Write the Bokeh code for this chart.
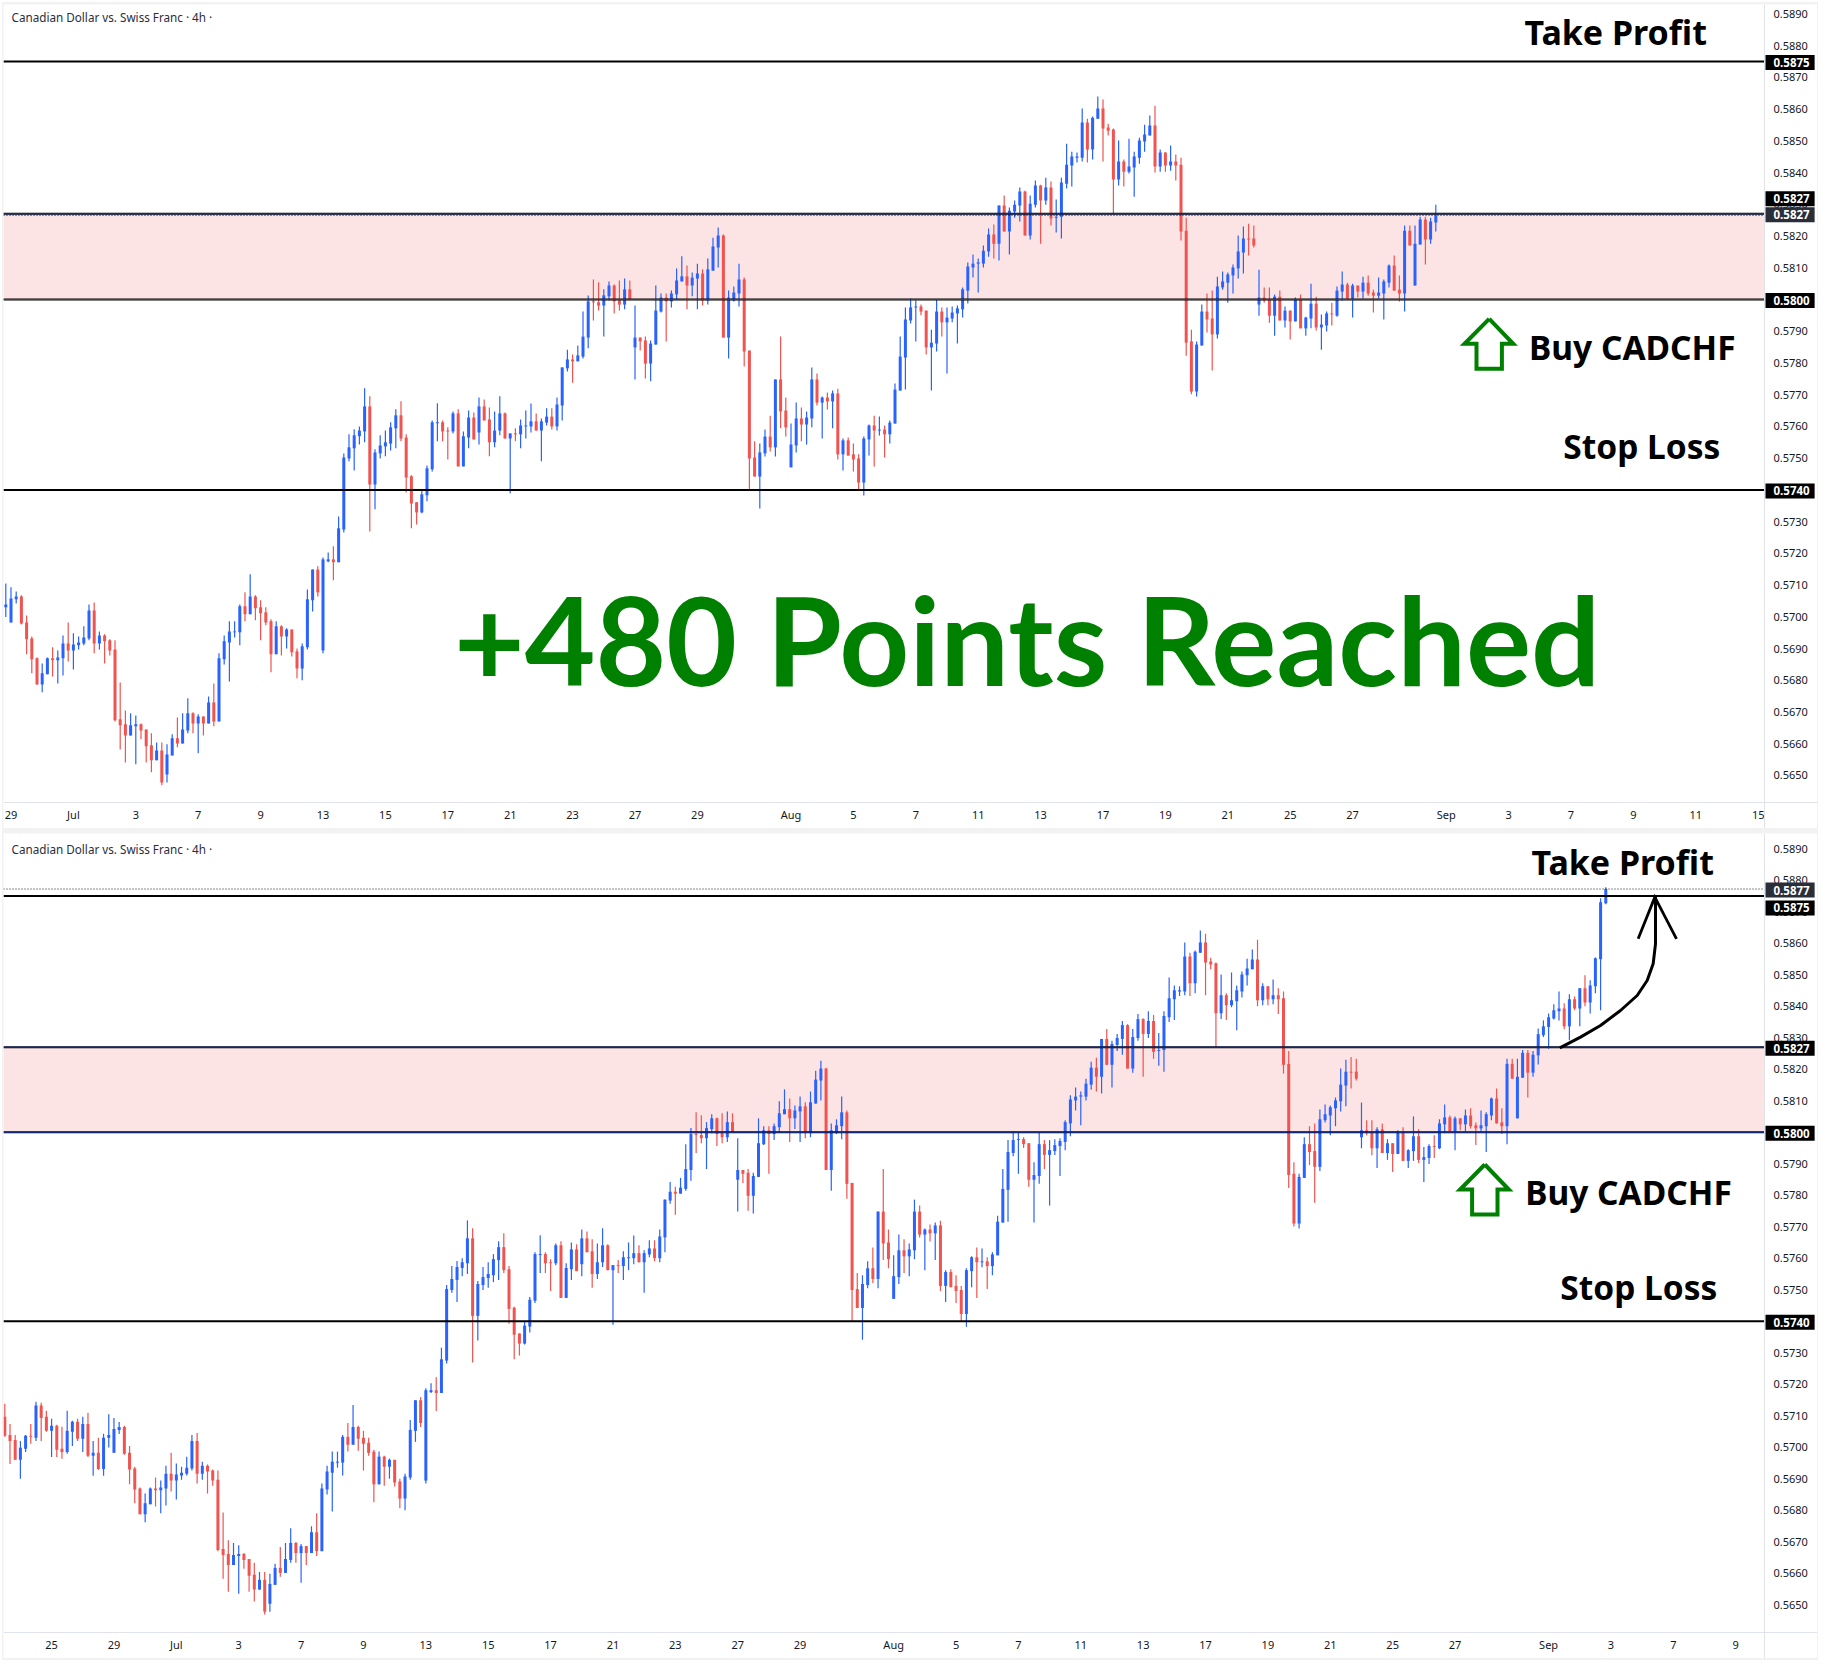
from bokeh.plotting import figure
from bokeh.models import (Range1d, FixedTicker, Label, ColumnDataSource, NumeralTickFormatter)
from bokeh.layouts import column
from bokeh.embed import file_html
from bokeh.resources import INLINE

# Values are pips above 0.5000 (703.9 means 0.57039). The first 20 bars appear only in the lower panel.
high = [
713.8,707.4,703.9,702.0,703.9,707.4,714.4,714.1,711.6,709.0,
707.1,706.5,711.6,708.4,709.0,709.7,710.9,702.0,703.0,704.3,
710.5,709.3,708.0,706.8,700.4,693.8,687.2,685.3,687.2,690.4,
689.4,694.1,698.2,694.8,693.8,697.0,703.9,704.5,695.4,694.5,
692.9,692.6,679.3,670.5,669.6,668.9,666.4,664.5,663.3,660.4,
660.4,659.8,663.0,668.3,669.6,674.3,669.9,669.3,668.6,674.9,
679.0,688.5,694.1,698.6,698.6,703.9,707.7,713.4,706.8,705.2,
703.0,699.2,698.6,697.3,696.4,696.0,690.0,691.6,708.6,714.9,
715.9,718.7,720.3,722.2,731.6,751.5,757.5,759.1,760.0,772.0,
769.5,752.8,757.2,758.7,761.3,765.4,767.9,757.5,744.6,736.1,
739.8,747.7,761.9,767.3,761.9,759.7,764.7,765.4,758.4,765.0,
764.4,769.1,768.5,766.0,764.7,769.5,764.4,757.8,759.4,762.2,
765.0,767.2,764.1,762.5,765.7,765.7,769.1,778.6,784.2,782.7,
785.5,796.2,801.3,806.3,805.4,803.2,805.7,804.7,806.0,806.6,
806.0,798.1,788.0,788.3,787.1,804.4,801.9,801.9,802.8,809.8,
813.6,810.7,808.5,811.3,809.5,812.9,819.5,822.7,820.5,802.8,
804.1,811.3,806.9,783.9,755.3,754.6,759.0,763.4,774.8,788.3,
769.1,760.9,767.5,766.0,764.7,778.6,776.7,769.4,770.7,771.3,
771.9,756.2,756.5,754.6,751.2,756.8,760.6,763.4,763.1,760.3,
761.9,773.5,788.3,797.5,800.3,799.7,798.4,796.5,790.5,800.0,
797.5,797.5,797.8,798.1,803.8,811.7,814.2,812.9,817.0,822.4,
823.6,829.6,832.8,829.0,831.2,835.3,834.3,832.8,837.5,836.2,
838.4,837.2,831.5,838.4,849.1,846.6,846.3,860.2,857.0,857.7,
864.0,863.0,855.4,853.9,850.1,844.1,850.7,846.6,851.0,855.1,
858.0,861.1,847.3,846.3,848.5,845.7,844.7,825.8,790.5,786.8,
798.4,801.9,802.8,807.2,808.8,808.5,811.0,820.2,823.0,823.9,
823.3,809.4,803.8,803.8,801.6,802.8,797.8,796.5,800.6,801.6,
794.6,805.0,800.9,795.3,796.2,799.0,804.1,808.8,805.3,805.0,
804.4,807.2,807.6,803.1,806.9,806.3,811.0,813.9,807.6,823.3,
823.3,823.3,826.1,826.1,825.8,832.9,
835.5,837.7,840.6,844.7,840.9,843.8,843.1,845.7,849.8,848.2,855.5,874.3,877.8]

body_top = [
709.7,703.9,702.3,699.8,703.6,703.6,713.2,713.2,709.7,706.8,
706.8,699.5,705.2,708.1,708.1,707.4,707.4,698.2,698.2,703.0,
703.9,705.8,706.4,706.4,698.2,693.2,686.9,682.2,686.9,686.9,
687.2,691.6,691.6,691.3,691.9,693.5,702.0,702.0,694.1,694.1,
692.6,689.7,667.7,666.1,665.8,666.1,666.1,664.5,659.5,657.9,
657.9,656.6,661.7,661.7,664.5,669.6,669.6,668.6,668.6,673.0,
673.0,686.9,692.3,695.4,695.4,703.3,703.3,706.4,706.4,703.0,
701.4,698.6,697.0,697.0,696.0,696.0,689.1,690.7,705.5,714.9,
714.9,718.1,718.1,718.1,727.9,750.2,753.4,757.2,758.7,766.3,
766.3,751.8,754.0,755.0,759.7,763.5,763.5,756.5,744.3,736.1,
738.6,746.8,761.3,761.3,761.3,758.7,764.1,764.1,756.9,762.8,
762.8,766.3,766.3,762.2,758.7,764.1,764.1,757.8,757.8,760.3,
760.3,761.6,761.6,761.6,763.1,763.1,766.9,778.6,781.1,781.1,
782.4,788.3,799.4,799.4,799.1,801.3,804.4,804.4,799.7,803.2,
803.2,788.0,788.0,787.1,786.1,796.5,800.6,800.6,801.9,806.0,
807.3,807.3,806.9,808.2,808.2,809.5,816.7,820.2,820.2,800.6,
802.2,806.3,806.3,783.9,750.2,751.8,756.8,756.8,774.8,774.8,
765.0,754.3,762.5,762.5,762.8,774.8,774.8,769.1,769.1,770.4,
770.4,755.6,755.6,751.2,749.9,756.2,760.3,760.3,759.0,759.0,
761.2,771.6,782.0,793.7,797.5,797.8,797.8,796.5,786.4,796.2,
796.2,794.3,795.9,797.2,803.2,810.4,811.3,811.7,815.4,820.5,
820.5,829.6,829.6,828.0,829.9,834.0,834.0,830.2,835.9,835.9,
835.3,835.3,826.1,836.9,842.5,845.1,845.1,855.8,855.8,857.3,
860.2,860.2,854.2,853.6,843.5,843.5,841.9,845.1,850.1,852.0,
854.8,854.8,846.3,846.3,843.5,843.5,842.5,821.7,786.8,785.8,
796.2,796.2,794.0,804.1,805.7,807.9,810.1,815.1,819.2,819.2,
819.2,800.6,800.6,800.0,800.9,800.9,796.5,796.5,800.0,800.0,
794.3,798.7,798.7,792.1,795.6,795.6,802.8,804.7,804.7,804.4,
804.4,805.3,805.3,802.2,802.2,805.7,810.7,810.7,803.1,821.7,
821.7,817.6,825.2,825.2,824.6,831.1,
833.6,836.5,838.7,839.3,839.3,842.2,842.2,845.7,845.7,846.6,855.2,873.0,877.2]

body_bottom = [
703.6,702.0,696.0,696.0,699.5,703.3,703.0,709.3,705.2,705.2,
699.2,698.5,698.5,704.9,702.7,702.7,697.3,697.3,693.1,693.1,
703.0,698.2,705.5,697.9,692.9,686.6,678.7,678.7,681.9,686.3,
686.3,686.9,689.4,689.4,691.0,691.6,693.2,691.6,691.6,692.3,
689.4,667.4,665.8,662.6,662.6,665.5,664.2,659.2,654.8,654.8,
647.8,650.3,656.3,660.1,660.1,664.2,666.4,666.4,666.4,666.4,
667.0,667.0,686.6,691.9,695.1,695.1,700.8,700.8,702.7,701.1,
698.2,688.2,688.2,693.8,693.8,688.8,683.7,683.7,690.4,705.2,
707.7,689.4,717.5,717.2,717.2,727.5,749.9,753.1,756.9,758.4,
741.7,741.7,751.5,753.7,754.6,759.4,756.2,743.9,735.7,732.9,
732.9,738.3,746.5,761.0,758.4,758.4,758.4,747.4,747.4,756.5,
755.9,758.1,761.9,755.0,755.0,758.7,756.2,756.2,757.5,757.5,
760.0,760.0,758.7,758.7,761.2,760.0,760.0,766.6,778.3,780.5,
780.5,782.0,788.0,799.1,798.1,798.1,801.0,799.4,798.4,798.4,
800.0,784.9,786.8,779.8,779.8,785.8,796.2,799.4,799.4,801.6,
805.7,804.4,804.4,806.6,799.7,799.7,809.1,816.4,788.0,788.0,
799.7,801.9,783.6,749.9,744.2,744.2,751.5,753.4,753.4,764.7,
759.7,747.1,754.0,760.6,760.6,762.5,767.5,767.5,767.9,767.9,
751.2,751.2,750.8,749.6,742.3,742.3,755.9,758.7,758.7,757.5,
757.5,760.9,771.3,781.7,793.4,797.5,796.2,784.9,784.9,786.1,
792.8,792.8,794.0,795.6,796.9,802.8,810.1,811.3,811.3,815.1,
817.6,817.6,821.4,821.4,827.7,829.6,820.2,820.2,829.9,831.2,
831.2,825.5,825.8,826.1,836.5,842.2,844.7,844.7,847.3,847.3,
857.0,853.9,853.2,837.8,837.8,840.3,840.3,841.6,844.7,849.8,
851.7,841.9,841.9,842.2,842.2,842.2,821.4,786.4,771.0,771.0,
785.5,793.7,789.0,789.0,803.8,805.3,807.6,809.8,814.8,818.9,
817.0,798.4,799.7,794.9,794.9,793.4,793.4,793.1,793.1,790.9,
790.9,794.0,791.2,791.2,791.8,795.3,794.9,802.5,800.3,800.3,
802.5,802.5,801.9,801.2,801.2,801.9,805.3,802.8,801.9,801.9,
817.0,804.4,817.3,818.9,818.9,824.4,
830.8,833.4,836.1,838.4,833.6,833.6,839.3,839.3,841.2,841.2,846.3,854.9,872.7]

low = [
703.3,694.7,696.0,690.0,698.5,701.1,702.0,702.0,704.9,696.9,
696.9,696.3,697.9,700.4,702.0,698.5,696.9,690.9,692.8,690.9,
699.9,698.2,704.2,697.6,688.2,682.2,678.7,676.2,681.9,681.2,
679.0,681.5,685.9,683.4,689.7,691.0,692.6,688.5,689.7,685.3,
687.8,667.0,658.2,654.1,662.6,653.5,661.4,654.1,651.0,654.8,
646.9,647.8,656.3,658.9,660.1,663.3,663.3,657.0,662.6,666.4,
665.5,667.0,685.0,679.6,693.5,691.0,698.6,700.8,698.9,692.6,
697.3,682.5,688.2,687.8,690.0,687.5,680.6,680.0,689.7,701.7,
706.4,688.5,717.2,711.5,717.2,726.6,749.0,746.1,754.3,755.0,
726.9,733.9,749.9,750.6,752.4,753.1,755.3,739.2,727.9,729.1,
732.6,736.4,745.8,755.3,755.3,749.6,757.8,747.4,747.4,753.1,
755.9,754.3,761.9,750.6,753.4,757.2,756.2,738.9,755.3,753.1,
756.2,758.1,758.7,749.0,760.3,759.0,758.7,761.9,777.3,773.8,
780.5,781.4,784.6,793.4,796.5,788.3,799.7,795.6,796.5,796.9,
800.0,774.8,783.9,775.1,774.2,785.8,795.9,786.8,797.5,800.0,
805.7,796.9,801.0,796.9,798.1,798.4,809.1,810.1,788.0,781.4,
799.4,797.8,778.9,739.8,744.2,734.1,750.5,752.1,750.5,759.4,
756.8,747.1,751.8,755.3,754.3,759.7,766.6,756.2,765.3,759.4,
749.6,746.1,750.8,745.8,740.1,738.2,750.8,747.4,757.1,750.2,
754.6,760.9,771.3,771.6,792.4,786.8,795.0,782.7,771.3,783.6,
788.3,776.7,792.8,786.1,794.3,798.7,806.9,802.2,810.1,813.5,
812.9,812.3,821.4,814.2,825.8,824.6,820.2,818.9,829.0,817.6,
829.9,823.3,821.1,819.2,835.0,835.6,843.2,843.5,843.2,844.1,
857.0,843.5,851.7,826.8,835.9,835.6,839.7,832.4,842.8,846.6,
851.7,840.0,840.3,840.3,840.6,837.5,818.6,782.3,770.1,769.4,
785.5,789.6,777.6,787.7,803.1,799.0,801.9,806.6,808.2,813.9,
816.4,794.9,799.0,792.7,788.6,793.4,791.2,787.4,793.1,790.9,
788.6,790.9,790.2,784.2,789.9,791.8,794.6,799.7,800.3,794.3,
800.6,800.3,801.2,795.9,800.3,793.7,803.8,802.8,799.4,796.2,
817.0,804.4,817.3,811.0,817.6,821.5,
830.2,826.5,835.8,835.5,832.7,829.2,838.7,833.6,840.0,837.7,844.1,838.7,872.4]

direction = ("RRRBBRBRRB" "RRBBRBRBRB" "BBBRRRRBBR" "BBRBBBBRBR" "RRRRBBRRRB" "RBBRBBRBRB" "RBBBBBRBRR"
             "RRBRBRRBBB" "RBBRBBBBBB" "RBBBBBRRRR" "BBBBRRBRBB" "RBRRBBRBRB" "BBRBBRBBBR" "BBBRRBBRRB"
             "RBRRBBBRBB" "BRBBRBBBRB" "BBRRRBBRBR" "RBBRBBRBRB" "RBRRRBBRBR" "BBBBBBRRBB" "RBBBBBBBBB"
             "RBRBBBRBBR" "BRBBBBBBRB" "BRRRBRBBBB" "BRBRBRRRRB" "BRRBBBBBBR" "RBRRBRBRBR" "BBRBBRBBRB"
             "RBRRBBBRRB" "RBBRBB" "BBBBRBRBRBBBB")

# The upper panel ends earlier, on a bar that was still forming.
upper_first_bar, upper_bar_count = 20, 276
upper_last_bar = dict(high=829.9, top=826.5, bottom=824.3, low=821.4)

take_profit, zone_top, zone_bottom, stop_loss = 875.0, 827.0, 800.0, 740.0
upper_last_price, lower_last_price = 826.5, 877.2

price_ticks = [650 + 10 * k for k in range(25)]
upper_tick_bars = [1,13,25,37,49,61,73,85,97,109,121,133,151,163,175,187,199,211,223,235,247,259,277,289,301,313,325,337]
upper_tick_labels = ["29","Jul","3","7","9","13","15","17","21","23","27","29","Aug","5","7","11","13","17","19","21","25","27","Sep","3","7","9","11","15"]
lower_tick_bars = [9,21,33,45,57,69,81,93,105,117,129,141,153,171,183,195,207,219,231,243,255,267,279,297,309,321,333]
lower_tick_labels = ["25","29","Jul","3","7","9","13","15","17","21","23","27","29","Aug","5","7","11","13","17","19","21","25","27","Sep","3","7","9"]

title_text = "Canadian Dollar vs. Swiss Franc \u00b7 4h \u00b7"
UP, DOWN = "#2962FF", "#F05350"
GREEN, GREY = "#008000", "#F2F2F2"
AXIS_LINE = "#E0E3EB"
HEADING = "Noto Sans"
CONV = {}


def price(p):
    return (5000 + p) / 10000


def make_panel(bars, tick_bars, tick_labels, geom, height, margin):
    """geom: page-pixel position of the whole panel, of its two axes and of both scales' reference points."""
    def to_x(px):
        return (px - geom["bar0_px"]) / geom["bar_step"]

    def to_y(py):
        return price(zone_bottom + (geom["zone_bottom_py"] - py) / geom["px_per_pip"])

    # The frame fills the panel; both axes sit inside it so the price tags can lie over the axis strip.
    p = figure(width=1814, height=height, output_backend="svg", toolbar_location=None, tools="",
               x_range=Range1d(to_x(geom["x0"]), to_x(geom["x1"])),
               y_range=Range1d(to_y(geom["y1"]), to_y(geom["y0"])),
               y_axis_location="right", margin=margin,
               min_border=0, background_fill_color="white", border_fill_color="white")
    p.outline_line_color = None
    p.grid.visible = False
    p.xaxis[0].fixed_location = to_y(geom["axis_y"])
    p.yaxis[0].fixed_location = to_x(geom["axis_x"])
    for ax in (p.xaxis[0], p.yaxis[0]):
        ax.major_tick_line_color = None
        ax.minor_tick_line_color = None
        ax.major_tick_out = 0
        ax.major_tick_in = 0
        ax.minor_tick_out = 0
        ax.minor_tick_in = 0
        ax.axis_line_color = AXIS_LINE
        ax.major_label_text_font = "Noto Sans"
        ax.major_label_text_font_size = "11px"
        ax.major_label_text_color = "#131722"
    p.yaxis[0].ticker = FixedTicker(ticks=[price(t) for t in price_ticks])
    p.yaxis[0].formatter = NumeralTickFormatter(format="0.0000")
    p.yaxis[0].major_label_standoff = 9
    p.xaxis[0].ticker = FixedTicker(ticks=tick_bars)
    p.xaxis[0].major_label_overrides = dict(zip(tick_bars, tick_labels))
    p.xaxis[0].major_label_standoff = 4

    p.quad(left=to_x(geom["x0"]), right=to_x(geom["axis_x"]), top=price(zone_top), bottom=price(zone_bottom),
           fill_color="#FCE4E4", line_color=None, level="underlay")

    colors = [UP if d == "B" else DOWN for d in bars["dir"]]
    src = ColumnDataSource(dict(x=list(range(len(colors))),
                                high=[price(v) for v in bars["high"]], low=[price(v) for v in bars["low"]],
                                top=[price(v) for v in bars["top"]], bottom=[price(v) for v in bars["bottom"]],
                                color=colors))
    p.segment("x", "high", "x", "low", source=src, line_color="color", line_width=1.2)
    p.vbar("x", width=3.0 / geom["bar_step"], top="top", bottom="bottom", source=src,
           fill_color="color", line_color=None)
    CONV[id(p)] = (to_x, to_y, geom)
    return p


def level_line(p, v, color="black", width=2, dash="solid"):
    to_x, _, g = CONV[id(p)]
    p.line([to_x(g["x0"]), to_x(g["axis_x"])], [price(v), price(v)], line_color=color, line_width=width, line_dash=dash)


def text(p, s, px, py, size, color="black", weight="bold", font=HEADING):
    to_x, to_y, _ = CONV[id(p)]
    p.add_layout(Label(x=to_x(px), y=to_y(py), text=s, text_font=font, text_font_size=f"{size}px",
                       text_color=color, text_font_style=weight, text_align="left", text_baseline="alphabetic"))


def tag(p, v, color="#000000", offset=0):
    to_x, _, _ = CONV[id(p)]
    p.add_layout(Label(x=to_x(1765), y=price(v), y_offset=offset - 1, text=f"{price(v):.4f}", text_font="Noto Sans",
                       text_font_size="11.5px", text_font_style="bold", text_color="white", text_align="left",
                       text_baseline="middle", background_fill_color=color, padding=(8, 5, 3, 3)))


def up_arrow(p, tip_x, tip_y):
    to_x, to_y, _ = CONV[id(p)]
    shape_x = [0, -24.7, -12.7, -12.7, 12.7, 12.7, 24, 0]
    shape_y = [0, 25, 25, 50, 50, 25, 25, 0]
    p.line([to_x(tip_x + dx) for dx in shape_x], [to_y(tip_y + dy) for dy in shape_y],
           line_color=GREEN, line_width=4, line_join="miter")


s0, s1 = upper_first_bar, upper_first_bar + upper_bar_count
upper_bars = dict(high=high[s0:s1], top=body_top[s0:s1], bottom=body_bottom[s0:s1], low=low[s0:s1], dir=direction[s0:s1])
for key in ("high", "top", "bottom", "low"):
    upper_bars[key][-1] = upper_last_bar[key]
lower_bars = dict(high=high, top=body_top, bottom=body_bottom, low=low, dir=direction)

upper_geom = dict(x0=3, x1=1817, y0=4, y1=828, axis_x=1764, axis_y=802, bar0_px=5.3, bar_step=5.2,
                  zone_bottom_py=299, px_per_pip=3.173)
lower_geom = dict(x0=3, x1=1817, y0=833, y1=1658, axis_x=1764, axis_y=1632, bar0_px=4.3, bar_step=5.198,
                  zone_bottom_py=1131.7, px_per_pip=3.15)

p1 = make_panel(upper_bars, upper_tick_bars, upper_tick_labels, upper_geom, 824, (2, 1, 0, 1))
p2 = make_panel(lower_bars, lower_tick_bars, lower_tick_labels, lower_geom, 825, (5, 1, 2, 1))

for p, last, label_y in ((p1, upper_last_price, 16.5), (p2, lower_last_price, 848)):
    to_x, to_y, _ = CONV[id(p)]
    p.add_layout(Label(x=to_x(11), y=to_y(label_y), text=title_text, text_font="Noto Sans", text_font_size="11.7px",
                       text_color="#2A2E39", text_align="left", text_baseline="alphabetic"))
    for lv in (take_profit, zone_top, zone_bottom, stop_loss):
        level_line(p, lv)
    level_line(p, zone_top, "#1C3FA8", 1)
    level_line(p, zone_bottom, "#1C3FA8", 1)
    level_line(p, last, "#131722", 1, "1 2")

H = 33.5
text(p1, "Take Profit", 1524, 31.7, 34)
text(p1, "Buy CADCHF", 1528.5, 346.5, H)
text(p1, "Stop Loss", 1562.7, 445.7, H)
text(p1, "+480 Points Reached", 453.4, 638, 122, GREEN, font="Lato")
up_arrow(p1, 1488.7, 318.3)
text(p2, "Take Profit", 1531, 861.5, 34)
text(p2, "Buy CADCHF", 1524.7, 1191.5, H)
text(p2, "Stop Loss", 1559.8, 1286.7, H)
up_arrow(p2, 1484.3, 1164)

to_x2, to_y2, _ = CONV[id(p2)]
curve_zx = [358, 420, 480, 540, 590, 620, 638, 645, 645]
curve_zy = [652, 620, 585, 540, 495, 450, 400, 340, 200]
p2.line([to_x2(1440 + z / 3) for z in curve_zx], [to_y2(830 + z / 3) for z in curve_zy],
        line_color="black", line_width=3, line_join="round")
head_zx, head_zy = [593, 643, 708], [325, 200, 325]
p2.line([to_x2(1440 + z / 3) for z in head_zx], [to_y2(830 + z / 3) for z in head_zy],
        line_color="black", line_width=2.8, line_join="miter")

tag(p1, take_profit)
tag(p1, zone_top, offset=16)
tag(p1, zone_top, color="#2A2E39")
tag(p1, zone_bottom)
tag(p1, stop_loss)
tag(p2, lower_last_price, color="#2A2E39")
tag(p2, take_profit, offset=-11)
tag(p2, zone_top)
tag(p2, zone_bottom)
tag(p2, stop_loss)

page = column(p1, p2, spacing=0, margin=(2, 0, 0, 2), styles={"background-color": GREY}, width=1816, height=1658)
open("out.html", "w").write(file_html(page, INLINE))
